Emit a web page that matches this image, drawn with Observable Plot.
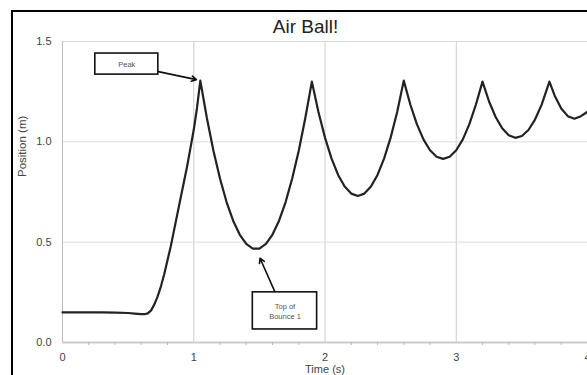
<!DOCTYPE html>
<html>
<head>
<meta charset="utf-8">
<script src="https://cdn.jsdelivr.net/npm/d3@7"></script>
<script src="https://cdn.jsdelivr.net/npm/@observablehq/plot@0.6"></script>
<style>
  html, body { margin: 0; padding: 0; background: #fff; }
  #wrap { position: relative; width: 587px; height: 375px; overflow: hidden; font-family: Arial, "Liberation Sans", sans-serif; }
  #frame { position: absolute; left: 11px; top: 10px; width: 620px; height: 420px; border-left: 2px solid #000; border-top: 2px solid #000; box-sizing: border-box; }
  #title { position: absolute; left: 0; top: 16px; width: 587px; padding-left: 24px; box-sizing: border-box; text-align: center; font-size: 19px; color: #222; line-height: 22px; }
  #chart { position: absolute; left: 0; top: 34px; }
</style>
</head>
<body>
<div id="wrap">
  <div id="chart"></div>
  <div id="frame"></div>
  <div id="title">Air Ball!</div>
</div>
<script>
// Time (s)
const time = [
  0.00, 0.10, 0.20, 0.30, 0.40, 0.50, 0.55, 0.60, 0.625, 0.65, 0.675, 0.70, 0.725, 0.75, 0.775, 0.80, 0.825, 0.85, 0.875, 0.90, 0.925, 0.95, 0.975, 1.00, 1.025, 1.05,
  1.10, 1.15, 1.20, 1.25, 1.30, 1.35, 1.40, 1.45, 1.50, 1.55, 1.60, 1.65, 1.70, 1.75, 1.80, 1.85, 1.90,
  1.95, 2.00, 2.05, 2.10, 2.15, 2.20, 2.25, 2.30, 2.35, 2.40, 2.45, 2.50, 2.55, 2.60,
  2.65, 2.70, 2.75, 2.80, 2.85, 2.90, 2.95, 3.00, 3.05, 3.10, 3.15, 3.20,
  3.25, 3.30, 3.35, 3.40, 3.45, 3.50, 3.55, 3.60, 3.65, 3.71,
  3.75, 3.80, 3.85, 3.90, 3.95, 4.00
];
// Position (m)
const position = [
  0.150, 0.150, 0.150, 0.150, 0.149, 0.147, 0.144, 0.141, 0.141, 0.145, 0.160, 0.190, 0.230, 0.280, 0.340, 0.410, 0.480, 0.560, 0.640, 0.720, 0.800, 0.880, 0.970, 1.060, 1.170, 1.305,
  1.119, 0.956, 0.817, 0.700, 0.607, 0.538, 0.491, 0.468, 0.468, 0.491, 0.538, 0.607, 0.700, 0.817, 0.956, 1.119, 1.300,
  1.149, 1.021, 0.916, 0.835, 0.777, 0.742, 0.730, 0.742, 0.777, 0.835, 0.916, 1.021, 1.149, 1.305,
  1.186, 1.088, 1.012, 0.958, 0.926, 0.915, 0.926, 0.958, 1.012, 1.088, 1.186, 1.300,
  1.201, 1.124, 1.068, 1.033, 1.020, 1.029, 1.059, 1.111, 1.184, 1.300,
  1.230, 1.166, 1.128, 1.115, 1.128, 1.150
];
const xTicks = [0, 1, 2, 3, 4];
const xTickLabels = ["0", "1", "2", "3", "4"];
const yTicks = [0, 0.5, 1.0, 1.5];
const yTickLabels = ["0.0", "0.5", "1.0", "1.5"];
const xMinorTicks = [0.2, 0.4, 0.6, 0.8, 1.2, 1.4, 1.6, 1.8, 2.2, 2.4, 2.6, 2.8, 3.2, 3.4, 3.6, 3.8];

// Annotations (data coordinates)
const noteLabels = ["Peak", "Top of\nBounce 1"];
const noteBoxX1 = [0.25, 1.45];
const noteBoxX2 = [0.73, 1.94];
const noteBoxY1 = [1.335, 0.065];
const noteBoxY2 = [1.44, 0.25];
const noteArrowX1 = [0.73, 1.62];
const noteArrowY1 = [1.35, 0.25];
const noteArrowX2 = [1.02, 1.505];
const noteArrowY2 = [1.31, 0.42];

const data = time.map((t, i) => ({t, p: position[i]}));
const notes = noteLabels.map((label, i) => ({
  label,
  x1: noteBoxX1[i], x2: noteBoxX2[i], y1: noteBoxY1[i], y2: noteBoxY2[i],
  ax1: noteArrowX1[i], ay1: noteArrowY1[i], ax2: noteArrowX2[i], ay2: noteArrowY2[i]
}));

const chart = Plot.plot({
  width: 587,
  height: 341,
  marginLeft: 62,
  marginRight: 0,
  marginTop: 7,
  marginBottom: 33,
  style: { fontFamily: "Arial, 'Liberation Sans', sans-serif", color: "#444", background: "transparent" },
  x: { type: "linear", domain: [0, 4] },
  y: { type: "linear", domain: [0, 1.5] },
  marks: [
    Plot.gridX(xTicks.slice(1), { stroke: "#ccc", strokeOpacity: 1, strokeWidth: 1 }),
    Plot.gridY(yTicks.slice(1), { stroke: "#ddd", strokeOpacity: 1, strokeWidth: 1 }),
    Plot.ruleY([0], { stroke: "#ccc", strokeWidth: 2 }),
    Plot.ruleX([0], { stroke: "#bbb", strokeWidth: 1 }),
    Plot.axisX(xMinorTicks, { tickSize: 3, stroke: "#bbb", text: null, label: null }),
    Plot.axisX(xTicks, { tickSize: 0, tickPadding: 11, fontSize: 11, tickFormat: (d, i) => xTickLabels[i], label: "Time (s)", labelAnchor: "center", labelArrow: "none", labelOffset: 30 }),
    Plot.axisY(yTicks, { tickSize: 0, tickPadding: 11, fontSize: 11, tickFormat: (d, i) => yTickLabels[i], label: null }),
    Plot.text(["Position (m)"], { frameAnchor: "left", dx: -40, rotate: -90, fontSize: 11.5, fill: "#444", dy: -15 }),
    Plot.line(data, { x: "t", y: "p", stroke: "#222", strokeWidth: 2.2, curve: "linear" }),
    Plot.arrow(notes, { x1: "ax1", y1: "ay1", x2: "ax2", y2: "ay2", stroke: "#111", strokeWidth: 1.6, headLength: 5 }),
    Plot.rect(notes, { x1: "x1", x2: "x2", y1: "y1", y2: "y2", fill: "#fff", stroke: "#111", strokeWidth: 1.6 }),
    Plot.text(notes, { x: d => (d.x1 + d.x2) / 2, y: d => (d.y1 + d.y2) / 2, text: "label", fontSize: 7.5, fill: "#555", lineHeight: 1.3 })
  ]
});
document.getElementById("chart").appendChild(chart);
</script>
</body>
</html>
